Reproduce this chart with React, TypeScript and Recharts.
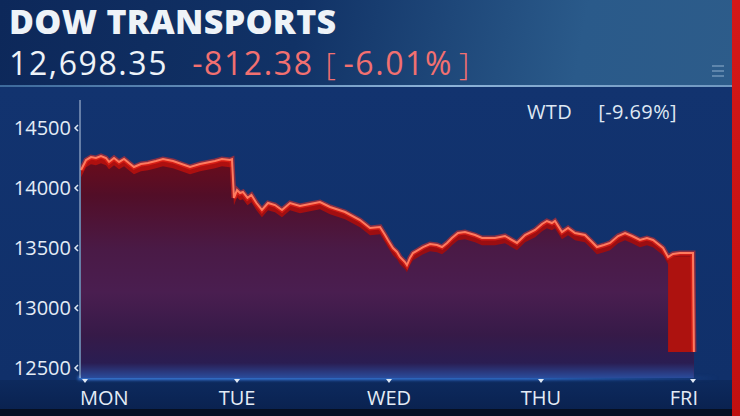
import React from "react";
import {
  ComposedChart,
  Area,
  Line,
  XAxis,
  YAxis,
  ReferenceArea,
} from "recharts";

// intraday index level, time in trading days from Monday's open
const times = [
  -0.026, 0.007, 0.039, 0.072, 0.105, 0.138, 0.158, 0.191, 0.224, 0.257, 0.289, 0.322,
  0.368, 0.414, 0.467, 0.513, 0.579, 0.691, 0.757, 0.855, 0.901, 0.954, 0.967,
  0.980, 1.000, 1.020, 1.039, 1.069, 1.095, 1.128, 1.164, 1.204, 1.250, 1.296, 1.349,
  1.414, 1.480, 1.546, 1.612, 1.711, 1.809, 1.875, 1.941, 1.974, 1.993, 2.026, 2.053,
  2.072, 2.105, 2.118, 2.138, 2.158, 2.191, 2.224, 2.270, 2.316, 2.349, 2.382, 2.414,
  2.454, 2.500, 2.566, 2.612, 2.697, 2.763, 2.842, 2.895, 2.961, 3.007, 3.039, 3.072,
  3.092, 3.138, 3.178, 3.224, 3.289, 3.336, 3.368, 3.414, 3.454, 3.507, 3.553, 3.599,
  3.651, 3.697, 3.737, 3.803, 3.836, 3.868, 3.914, 3.980, 4.000, 4.006,
];
const values = [
  14150, 14233, 14258, 14250, 14267, 14250, 14217, 14250, 14217, 14242, 14208, 14175,
  14200, 14208, 14225, 14242, 14225, 14175, 14200, 14225, 14242, 14233, 14240,
  13917, 13983, 13958, 13967, 13917, 13942, 13875, 13817, 13875, 13858, 13817, 13875,
  13850, 13867, 13883, 13842, 13800, 13733, 13667, 13675, 13608, 13567, 13500, 13467,
  13425, 13383, 13358, 13417, 13458, 13483, 13508, 13533, 13525, 13508, 13542, 13583,
  13625, 13633, 13608, 13583, 13583, 13600, 13542, 13608, 13650, 13700, 13725, 13708,
  13725, 13633, 13667, 13625, 13608, 13550, 13508, 13525, 13542, 13600, 13625, 13600,
  13567, 13583, 13567, 13500, 13425, 13450, 13458, 13458, 13458, 12633,
];

const dayTicks = [0, 1, 2, 3, 4];
const dayLabels = ["MON", "TUE", "WED", "THU", "FRI"];
const priceTicks = [12500, 13000, 13500, 14000, 14500];

const data = times.map((t, i) => ({ t, v: values[i] }));

const xDomain = [-0.0329, 4.0461];
const yDomain = [12416.67, 14733.33];
const shadeOffset = 60;

const FONT = "'Open Sans', 'DejaVu Sans', sans-serif";

const YTick = (props: any) => {
  const { y, payload } = props;
  return (
    <g>
      <text x={71} y={y} dy={7} textAnchor="end" fill="#e4ecf6" fontSize={20} fontFamily={FONT}>
        {payload.value}
      </text>
      <path d={`M78 ${y - 3} L75 ${y} L78 ${y + 3}`} stroke="#dfe8f3" strokeWidth={1.5} fill="none" />
    </g>
  );
};

const XTick = (props: any) => {
  const { x, index } = props;
  const last = index === dayTicks.length - 1;
  const anchor = index === 0 ? "start" : last ? "end" : "middle";
  const tx = index === 0 ? x - 5 : last ? x + 5 : x;
  return (
    <g>
      <path d={`M${x - 3} 379 L${x + 3} 379 L${x} 383 Z`} fill="#dfe8f3" />
      <text x={tx} y={405} textAnchor={anchor} fill="#e4ecf6" fontSize={20} fontFamily={FONT}>
        {dayLabels[index]}
      </text>
    </g>
  );
};

export default function App() {
  const n = times.length;
  return (
    <div style={{ position: "fixed", left: 0, top: 0, width: 740, height: 416, overflow: "hidden", background: "#0f2c66", fontFamily: FONT }}>
      {/* header band */}
      <div style={{
        position: "absolute", left: 0, top: 0, width: 740, height: 86,
        background: "linear-gradient(100deg, #0d285a 0%, #113266 40%, #2a5a8a 78%, #2d5c8a 100%)",
      }} />
      <div style={{
        position: "absolute", left: 0, top: 85, width: 740, height: 2,
        background: "linear-gradient(90deg, #3d6a9c 0%, #8db3d8 60%, #6f97c0 100%)",
      }} />
      {[0, 5, 10].map((d) => (
        <div key={d} style={{ position: "absolute", left: 712, top: 65 + d, width: 12, height: 2, background: "rgba(190,212,235,0.35)" }} />
      ))}
      <div style={{ position: "absolute", left: 9, top: 1, fontSize: 34, fontWeight: 800, color: "#eef3f8", lineHeight: "40px", letterSpacing: 0.3, whiteSpace: "nowrap" }}>
        DOW TRANSPORTS
      </div>
      <div style={{ position: "absolute", left: 9, top: 45, fontSize: 32, lineHeight: "36px", whiteSpace: "nowrap", letterSpacing: 1.6 }}>
        <span style={{ color: "#eef3f8" }}>12,698.35</span>
        <span style={{ color: "#f27070", marginLeft: 24 }}>-812.38</span>
        <span style={{ color: "#f27070", marginLeft: 12 }}>
          <span style={{ fontWeight: 300, marginRight: 6 }}>[</span>-6.01%<span style={{ fontWeight: 300, marginLeft: 6 }}>]</span>
        </span>
      </div>

      {/* plot body background */}
      <div style={{
        position: "absolute", left: 0, top: 87, width: 740, height: 293,
        background: "linear-gradient(180deg, #12336f 0%, #10306a 100%)",
      }} />
      <div style={{
        position: "absolute", left: 0, top: 380, width: 740, height: 30,
        background: "linear-gradient(180deg, #0d2a5e 0%, #0a2250 100%)",
      }} />
      <div style={{
        position: "absolute", left: 78, top: 376, width: 640, height: 4,
        background: "linear-gradient(90deg, #3b7ad8 0%, #2f6cc8 70%, rgba(40,90,180,0) 100%)",
        filter: "blur(1.5px)",
      }} />
      <div style={{ position: "absolute", left: 0, top: 409, width: 740, height: 7, background: "#060f22" }} />
      <div style={{ position: "absolute", left: 732, top: 0, width: 8, height: 416, background: "linear-gradient(180deg, #d41818 0%, #c01010 100%)" }} />

      <div style={{ position: "absolute", left: 0, top: 0 }}>
        <ComposedChart width={740} height={416} data={data} margin={{ top: 100, right: 40, bottom: 0, left: 0 }}>
          <defs>
            <linearGradient id="redBody" x1="0" y1="0" x2="0" y2="1">
              <stop offset="0%" stopColor="#b0100f" />
              <stop offset="100%" stopColor="#7a0a16" />
            </linearGradient>
            <linearGradient id="shadeFill" x1="0" y1="0" x2="0" y2="1">
              <stop offset="0%" stopColor="#680c1c" />
              <stop offset="15%" stopColor="#520e28" />
              <stop offset="40%" stopColor="#4a1a46" />
              <stop offset="60%" stopColor="#4a1e50" />
              <stop offset="80%" stopColor="#361a48" />
              <stop offset="93%" stopColor="#2a1d52" />
              <stop offset="100%" stopColor="#2a4c9c" />
            </linearGradient>
          </defs>
          <XAxis
            xAxisId="x"
            dataKey="t"
            type="number"
            domain={xDomain}
            ticks={dayTicks}
            height={38}
            axisLine={false}
            tickLine={false}
            tick={<XTick />}
            allowDataOverflow
          />
          <YAxis
            yAxisId="main"
            domain={yDomain}
            ticks={priceTicks}
            width={80}
            axisLine={{ stroke: "#b9cbe2", strokeWidth: 1 }}
            tickLine={false}
            tick={<YTick />}
            allowDataOverflow
          />
          <YAxis
            yAxisId="shade"
            hide
            domain={[yDomain[0] + shadeOffset, yDomain[1] + shadeOffset]}
            allowDataOverflow
          />
          <Area
            xAxisId="x"
            yAxisId="main"
            type="linear"
            dataKey="v"
            stroke="none"
            fill="url(#redBody)"
            fillOpacity={1}
            isAnimationActive={false}
          />
          <Area
            xAxisId="x"
            yAxisId="shade"
            type="linear"
            dataKey="v"
            stroke="none"
            fill="url(#shadeFill)"
            fillOpacity={1}
            isAnimationActive={false}
          />
          <ReferenceArea
            xAxisId="x"
            yAxisId="main"
            x1={times[n - 6]}
            x2={times[n - 1]}
            y1={values[n - 1]}
            y2={values[n - 6]}
            fill="#ad120f"
            fillOpacity={1}
            stroke="none"
          />
          <Line
            xAxisId="x"
            yAxisId="main"
            type="linear"
            dataKey="v"
            stroke="#ff2a1a"
            strokeOpacity={0.5}
            strokeWidth={5}
            dot={false}
            activeDot={false}
            isAnimationActive={false}
          />
          <Line
            xAxisId="x"
            yAxisId="main"
            type="linear"
            dataKey="v"
            stroke="#ff7a5e"
            strokeWidth={2}
            dot={false}
            activeDot={false}
            isAnimationActive={false}
          />
        </ComposedChart>
      </div>

      <div style={{ position: "absolute", left: 527, top: 99, fontSize: 20, color: "#dfe8f3", lineHeight: "26px", whiteSpace: "nowrap", letterSpacing: 0.4 }}>
        WTD<span style={{ marginLeft: 26 }}>[-9.69%]</span>
      </div>
    </div>
  );
}
